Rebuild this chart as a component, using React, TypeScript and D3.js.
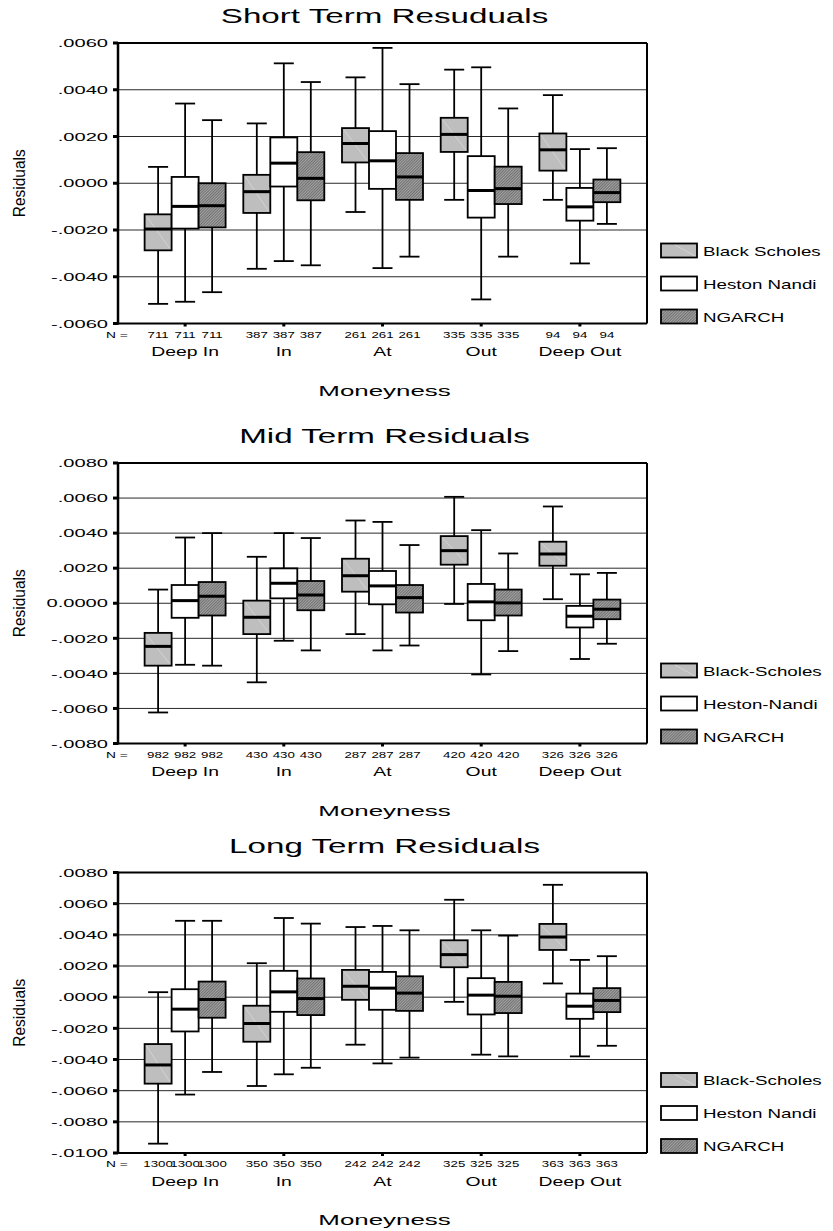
import React from 'react';
import * as d3 from 'd3';

// categories along the x axis
const categories = ['Deep In', 'In', 'At', 'Out', 'Deep Out'];

// box values: [lower whisker, Q1, median, Q3, upper whisker]
const shortBS = [
  [-0.00516, -0.00287, -0.00196, -0.00133, 0.0007],
  [-0.00366, -0.00127, -0.00036, 0.00036, 0.00256],
  [-0.00123, 0.00089, 0.0017, 0.00236, 0.00453],
  [-0.00071, 0.00134, 0.00209, 0.0028, 0.00486],
  [-0.00071, 0.00054, 0.00143, 0.00213, 0.00377],
];
const shortHN = [
  [-0.00507, -0.00194, -0.00099, 0.00027, 0.00341],
  [-0.00333, -0.00014, 0.00086, 0.00196, 0.00513],
  [-0.00363, -0.00024, 0.00096, 0.00223, 0.00579],
  [-0.00497, -0.00147, -0.00031, 0.00116, 0.00496],
  [-0.00343, -0.0016, -0.00101, -0.0002, 0.00146],
];
const shortNG = [
  [-0.00466, -0.00189, -0.00096, 0.0, 0.0027],
  [-0.00351, -0.00073, 0.00021, 0.00133, 0.00433],
  [-0.00314, -0.00071, 0.00027, 0.00129, 0.00424],
  [-0.00314, -0.00089, -0.00023, 0.00071, 0.0032],
  [-0.00174, -0.00081, -0.0004, 0.00016, 0.0015],
];

const midBS = [
  [-0.00623, -0.00356, -0.00246, -0.00169, 0.00078],
  [-0.00451, -0.00176, -0.0008, 0.00015, 0.00265],
  [-0.00176, 0.00066, 0.00157, 0.00254, 0.00472],
  [-0.00004, 0.0022, 0.003, 0.00383, 0.00607],
  [0.00023, 0.00214, 0.00281, 0.00351, 0.00552],
];
const midHN = [
  [-0.00351, -0.00083, 0.00015, 0.00104, 0.00375],
  [-0.00214, 0.00028, 0.00114, 0.00199, 0.004],
  [-0.00269, -0.00006, 0.00099, 0.00184, 0.00464],
  [-0.00406, -0.00097, 0.00008, 0.0011, 0.00417],
  [-0.00318, -0.00138, -0.00074, -0.00015, 0.00165],
];
const midNG = [
  [-0.00356, -0.0007, 0.0004, 0.00121, 0.004],
  [-0.00269, -0.0004, 0.00047, 0.00127, 0.00372],
  [-0.00241, -0.00053, 0.00032, 0.00104, 0.00332],
  [-0.00273, -0.0007, 0.00002, 0.00078, 0.00284],
  [-0.00231, -0.00091, -0.00034, 0.00021, 0.00173],
];

const longBS = [
  [-0.0094, -0.00555, -0.00435, -0.00301, 0.00032],
  [-0.0057, -0.00286, -0.00169, -0.00055, 0.00218],
  [-0.00305, -0.00017, 0.0007, 0.00175, 0.0045],
  [-0.0003, 0.00192, 0.00273, 0.00365, 0.00625],
  [0.00088, 0.00303, 0.00386, 0.0047, 0.00721],
];
const longHN = [
  [-0.00625, -0.0022, -0.00077, 0.00051, 0.0049],
  [-0.00495, -0.00094, 0.00034, 0.00169, 0.00508],
  [-0.00425, -0.00081, 0.00058, 0.00162, 0.00457],
  [-0.00369, -0.00111, 0.00013, 0.00122, 0.00429],
  [-0.0038, -0.00139, -0.00058, 0.00023, 0.00239],
];
const longNG = [
  [-0.0048, -0.00132, -0.00015, 0.001, 0.0049],
  [-0.00453, -0.00115, -0.00009, 0.0012, 0.00472],
  [-0.00388, -0.00088, 0.00026, 0.00134, 0.00429],
  [-0.0038, -0.00102, 0.00006, 0.00098, 0.00395],
  [-0.00312, -0.00096, -0.00021, 0.00058, 0.00263],
];

// sample sizes
const shortN = [711, 387, 261, 335, 94];
const midN = [982, 430, 287, 420, 326];
const longN = [1300, 350, 242, 325, 363];

// y ticks
const shortTicks = [-0.006, -0.004, -0.002, 0, 0.002, 0.004, 0.006];
const shortTickLabels = ['-.0060', '-.0040', '-.0020', '.0000', '.0020', '.0040', '.0060'];
const midTicks = [-0.008, -0.006, -0.004, -0.002, 0, 0.002, 0.004, 0.006, 0.008];
const midTickLabels = ['-.0080', '-.0060', '-.0040', '-.0020', '0.0000', '.0020', '.0040', '.0060', '.0080'];
const longTicks = [-0.01, -0.008, -0.006, -0.004, -0.002, 0, 0.002, 0.004, 0.006, 0.008];
const longTickLabels = ['-.0100', '-.0080', '-.0060', '-.0040', '-.0020', '.0000', '.0020', '.0040', '.0060', '.0080'];

const titles = ['Short Term Resuduals', 'Mid Term Residuals', 'Long Term Residuals'];
const shortLegend = ['Black Scholes', 'Heston Nandi', 'NGARCH'];
const midLegend = ['Black-Scholes', 'Heston-Nandi', 'NGARCH'];
const longLegend = ['Black-Scholes', 'Heston Nandi', 'NGARCH'];

const FONT = "'Liberation Sans', Arial, sans-serif";
const LEFT = 118;
const RIGHT = 647;
const PH = 280.5;
const BOXW = 27;

const panels = [
  { title: titles[0], top: 43, ticks: shortTicks, labels: shortTickLabels, legend: shortLegend, n: shortN, series: [shortBS, shortHN, shortNG] },
  { title: titles[1], top: 463, ticks: midTicks, labels: midTickLabels, legend: midLegend, n: midN, series: [midBS, midHN, midNG] },
  { title: titles[2], top: 872.5, ticks: longTicks, labels: longTickLabels, legend: longLegend, n: longN, series: [longBS, longHN, longNG] },
];

const fills = ['#bebebe', '#ffffff', 'url(#hatch)'];

const SText = ({ x, y, sx = 1, size, anchor = 'start', children }: any) => (
  <text
    transform={`translate(${x},${y}) scale(${sx},1)`}
    fontSize={size}
    fontFamily={FONT}
    textAnchor={anchor}
    fill="#000"
  >
    {children}
  </text>
);

const Panel = ({ p }: any) => {
  const bottom = p.top + PH;
  const x = d3.scalePoint().domain(categories).range([LEFT, RIGHT]).padding(0.68);
  const y = d3.scaleLinear().domain(d3.extent(p.ticks) as [number, number]).range([bottom, p.top]);
  const midY = (p.top + bottom) / 2;
  const cx = (LEFT + RIGHT) / 2 + 2;

  return (
    <g>
      <SText x={cx} y={p.top - 20} sx={1.58} size={21} anchor="middle">{p.title}</SText>

      {/* gridlines */}
      {p.ticks.map((t: number, i: number) => (
        <line key={'g' + i} x1={LEFT} x2={RIGHT} y1={y(t)} y2={y(t)} stroke="#2a2a2a" strokeWidth={1} />
      ))}

      {/* boxes */}
      {categories.map((c, ci) =>
        p.series.map((s: number[][], si: number) => {
          const d = s[ci];
          const bx = (x(c) as number) + (si - 1) * BOXW;
          const x0 = bx - BOXW / 2;
          const cap = 10;
          return (
            <g key={c + si}>
              <line x1={bx} x2={bx} y1={y(d[4])} y2={y(d[3])} stroke="#000" strokeWidth={1.8} />
              <line x1={bx} x2={bx} y1={y(d[1])} y2={y(d[0])} stroke="#000" strokeWidth={1.8} />
              <line x1={bx - cap} x2={bx + cap} y1={y(d[4])} y2={y(d[4])} stroke="#000" strokeWidth={1.8} />
              <line x1={bx - cap} x2={bx + cap} y1={y(d[0])} y2={y(d[0])} stroke="#000" strokeWidth={1.8} />
              <rect x={x0} y={y(d[3])} width={BOXW} height={y(d[1]) - y(d[3])} fill={fills[si]} stroke="#000" strokeWidth={1.8} />
              {si === 0 && (
                <line x1={x0 + 2} y1={y(d[3]) + 2} x2={x0 + BOXW - 2} y2={y(d[1]) - 2} stroke="#d8d8d8" strokeWidth={0.8} />
              )}
              <line x1={x0} x2={x0 + BOXW} y1={y(d[2])} y2={y(d[2])} stroke="#000" strokeWidth={3} />
            </g>
          );
        })
      )}

      {/* frame */}
      <line x1={LEFT} x2={RIGHT} y1={p.top} y2={p.top} stroke="#000" strokeWidth={2} />
      <line x1={RIGHT} x2={RIGHT} y1={p.top} y2={bottom} stroke="#000" strokeWidth={2} />
      <line x1={LEFT} x2={RIGHT} y1={bottom} y2={bottom} stroke="#000" strokeWidth={2.2} />
      <line x1={LEFT} x2={LEFT} y1={p.top - 1} y2={bottom + 1} stroke="#000" strokeWidth={2.5} />

      {/* y ticks */}
      {p.ticks.map((t: number, i: number) => (
        <g key={'t' + i}>
          <rect x={LEFT - 5} y={y(t) - 1.5} width={5} height={3} fill="#000" />
          <SText x={108} y={y(t) + 4.2} sx={1.75} size={11.5} anchor="end">{p.labels[i]}</SText>
        </g>
      ))}

      {/* x ticks */}
      {categories.map((c) => (
        <rect key={'xt' + c} x={(x(c) as number) - 1.5} y={bottom} width={3} height={3} fill="#000" />
      ))}

      <text
        transform={`translate(25,${midY}) scale(1.15,1) rotate(-90)`}
        fontSize={15}
        fontFamily={FONT}
        textAnchor="middle"
        textLength={68}
        lengthAdjust="spacingAndGlyphs"
      >
        Residuals
      </text>

      {/* N row */}
      <SText x={106} y={bottom + 14} sx={1.45} size={9.5}>N =</SText>
      {categories.map((c, ci) =>
        [0, 1, 2].map((si) => (
          <SText key={'n' + c + si} x={(x(c) as number) + (si - 1) * BOXW} y={bottom + 14} sx={1.4} size={9.5} anchor="middle">
            {p.n[ci]}
          </SText>
        ))
      )}

      {/* category labels */}
      {categories.map((c) => (
        <SText key={'c' + c} x={x(c) as number} y={bottom + 32.5} sx={1.55} size={12.5} anchor="middle">{c}</SText>
      ))}

      <SText x={cx} y={bottom + 72} sx={1.85} size={14} anchor="middle">Moneyness</SText>

      {/* legend */}
      {p.legend.map((l: string, li: number) => {
        const ty = bottom - 80 + li * 33;
        return (
          <g key={'l' + li}>
            <rect x={661} y={ty} width={36} height={14} fill={fills[li]} stroke="#000" strokeWidth={1.8} />
            {li === 0 && <line x1={675} y1={ty + 1.5} x2={695} y2={ty + 12.5} stroke="#d8d8d8" strokeWidth={0.8} />}
            <SText x={703} y={ty + 12} sx={1.5} size={12.5}>{l}</SText>
          </g>
        );
      })}
    </g>
  );
};

export default function App() {
  return (
    <svg
      width={833}
      height={1231}
      style={{ position: 'absolute', left: 0, top: 0, background: '#fff' }}
    >
      <defs>
        <pattern id="hatch" width={2} height={2} patternUnits="userSpaceOnUse" patternTransform="rotate(45)">
          <rect width={2} height={2} fill="#a2a2a2" />
          <line x1={0.5} y1={0} x2={0.5} y2={2} stroke="#6c6c6c" strokeWidth={0.9} />
        </pattern>
      </defs>
      <rect width={833} height={1231} fill="#fff" />
      {panels.map((p, i) => (
        <Panel key={i} p={p} />
      ))}
    </svg>
  );
}
